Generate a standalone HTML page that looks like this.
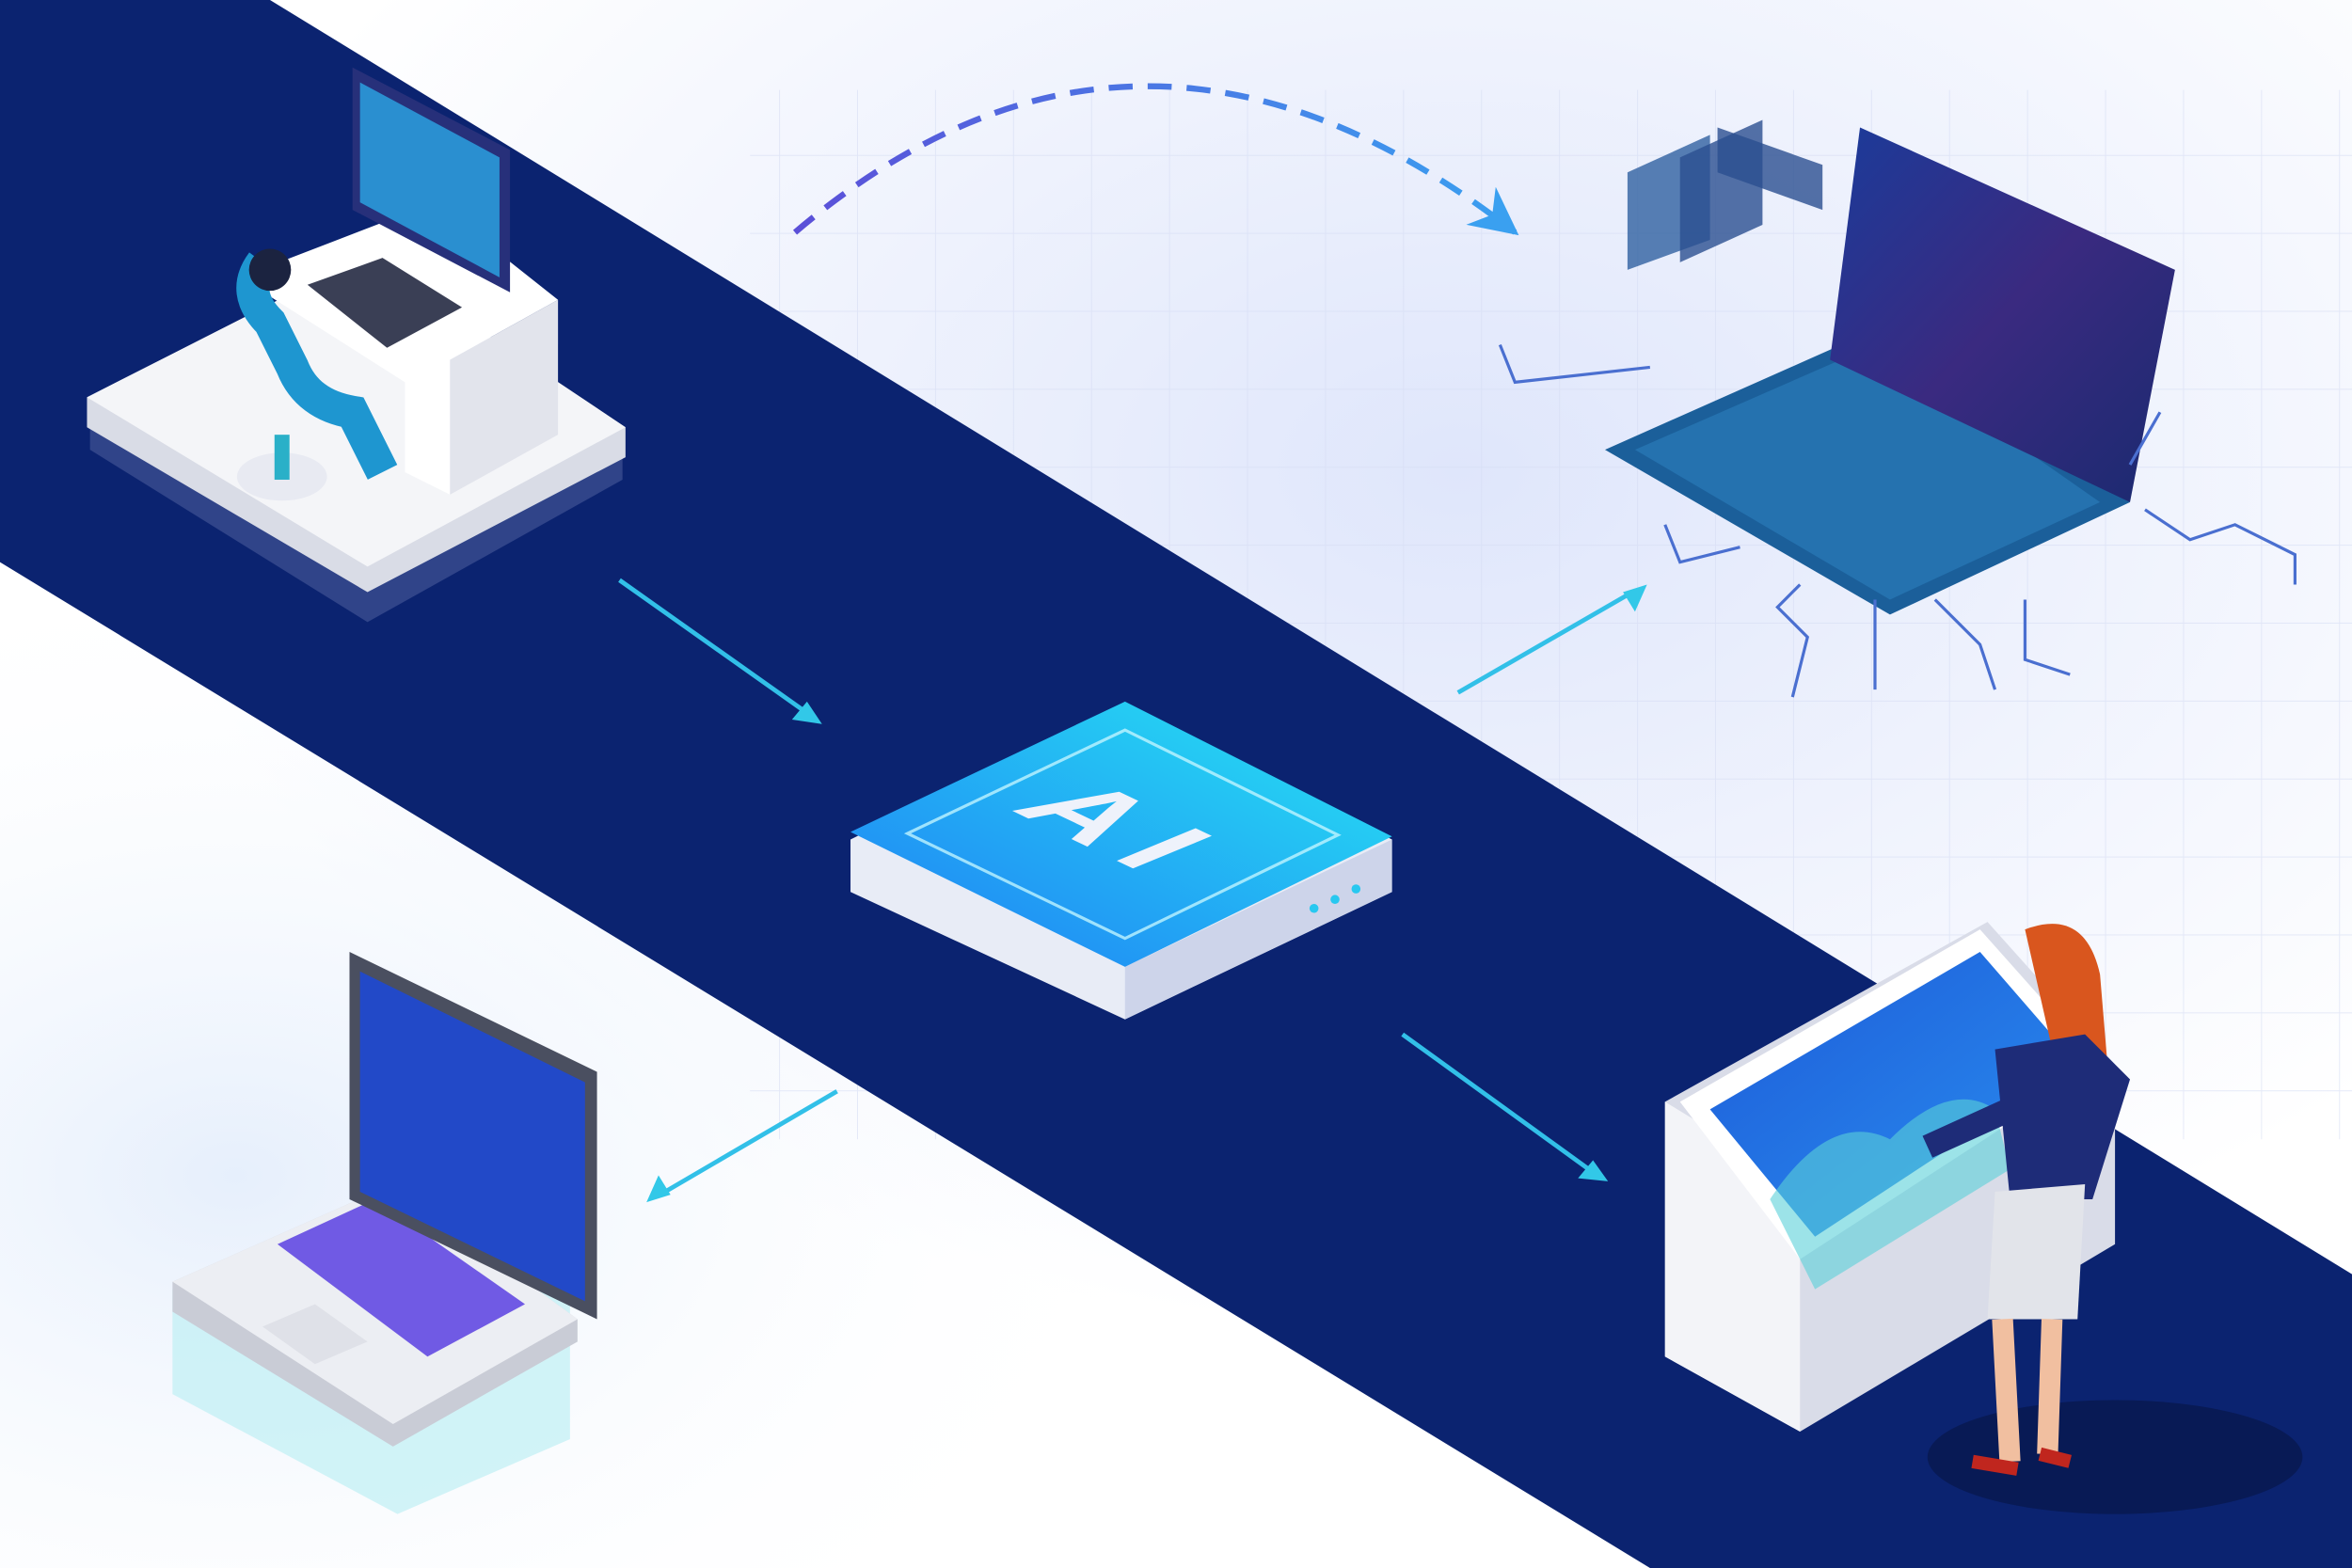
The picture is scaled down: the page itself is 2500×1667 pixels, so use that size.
<!DOCTYPE html>
<html><head><meta charset="utf-8"><style>
html,body{margin:0;padding:0;width:2500px;height:1667px;overflow:hidden;background:#fff}
svg{display:block}
</style></head><body>
<svg width="2500" height="1667" viewBox="0 0 1568 1046" preserveAspectRatio="none" xmlns="http://www.w3.org/2000/svg">
<defs>
<radialGradient id="bg1" cx="0.62" cy="0.3" r="0.55"><stop offset="0" stop-color="#dfe6fb"/><stop offset="1" stop-color="#ffffff"/></radialGradient>
<radialGradient id="bg2" cx="0.1" cy="0.75" r="0.4"><stop offset="0" stop-color="#e6effc"/><stop offset="1" stop-color="#ffffff" stop-opacity="0"/></radialGradient>
<linearGradient id="aitop" x1="0" y1="1" x2="1" y2="0"><stop offset="0" stop-color="#1f7cf5"/><stop offset="1" stop-color="#27e6f2"/></linearGradient>
<linearGradient id="arc" x1="0" x2="1"><stop offset="0" stop-color="#5b4fd8"/><stop offset="1" stop-color="#3aa0f0"/></linearGradient>
<linearGradient id="scr" x1="0" y1="0" x2="1" y2="1"><stop offset="0" stop-color="#1d5bd8"/><stop offset="1" stop-color="#2a8ff0"/></linearGradient>
<linearGradient id="lap2" x1="0" y1="0" x2="1" y2="1"><stop offset="0" stop-color="#1b3b9a"/><stop offset="0.5" stop-color="#3a2a80"/><stop offset="1" stop-color="#1a2a70"/></linearGradient>
<pattern id="grid" width="52" height="52" patternUnits="userSpaceOnUse"><path d="M52 0V52M0 52H52" stroke="#d5dcf3" stroke-width="1.2" fill="none"/></pattern>
<marker id="ah2" viewBox="0 0 10 10" refX="9" refY="5" markerWidth="8" markerHeight="8" orient="auto"><path d="M0 0L10 5L0 10L3 5Z" fill="#3aa0f0"/></marker>
</defs>
<rect width="1568" height="1046" fill="url(#bg1)"/>
<rect width="1568" height="1046" fill="url(#bg2)"/>
<rect x="500" y="60" width="1068" height="700" fill="url(#grid)" opacity="0.6"/>
<polygon points="180,0 1568,850 1568,1046 1100,1046 0,375 0,0" fill="#0b2370"/>
<path d="M530 155 Q760 -40 1010 155" fill="none" stroke="url(#arc)" stroke-width="4" stroke-dasharray="16 10" marker-end="url(#ah2)"/>
<g stroke="#32c0e8" stroke-width="3" fill="none">
<line x1="413" y1="387" x2="540" y2="477"/>
<line x1="972" y1="462" x2="1090" y2="394"/>
<line x1="935" y1="690" x2="1062" y2="782"/>
<line x1="558" y1="728" x2="440" y2="797"/>
</g>
<g fill="#32c8e8">
<path d="M548 483 l-20 -3 l10 -12z"/><path d="M1098 390 l-8 18 l-8 -13z"/><path d="M1072 788 l-20 -2 l10 -12z"/><path d="M431 802 l8 -18 l8 13z"/>
</g>
<!-- AI box -->
<polygon points="567,560 750,470 928,560 928,595 750,680 567,595" fill="#e8ecf6"/>
<polygon points="750,645 928,560 928,595 750,680" fill="#cdd4ea"/>
<polygon points="567,555 750,468 928,558 750,645" fill="url(#aitop)"/>
<polygon points="605,556 750,487 892,557 750,626" fill="none" stroke="#bff4ff" stroke-width="2" opacity="0.8"/>
<text font-family="Liberation Sans, sans-serif" font-weight="bold" font-size="83" letter-spacing="14" fill="#eef2fb" transform="matrix(0.9,0.43,-0.92,0.38,673,540)">AI</text>
<circle cx="876" cy="606" r="3" fill="#28c8f0"/><circle cx="890" cy="600" r="3" fill="#28c8f0"/><circle cx="904" cy="593" r="3" fill="#28c8f0"/>
<!-- desk platform -->
<polygon points="60,270 245,175 415,285 415,320 245,415 60,300" fill="#4a5a9a" opacity="0.6"/>
<polygon points="58,265 245,170 417,285 417,305 245,395 58,285" fill="#d9dce6"/>
<polygon points="58,265 245,170 417,285 245,378" fill="#f4f5f8"/>
<polygon points="160,185 290,135 372,200 300,240 300,330 270,315 270,255" fill="#ffffff"/>
<polygon points="300,240 372,200 372,290 300,330" fill="#e2e4ec"/>
<polygon points="235,45 340,100 340,195 235,140" fill="#27307a"/>
<polygon points="240,55 333,105 333,185 240,135" fill="#2a8fd0"/>
<polygon points="205,190 255,172 308,205 258,232" fill="#3a3f55"/>
<path d="M175 175 q-15 20 5 40 l15 30 q10 25 40 30 l20 40" stroke="#1e96d0" stroke-width="22" fill="none"/>
<circle cx="180" cy="180" r="14" fill="#1b2340"/>
<ellipse cx="188" cy="318" rx="30" ry="16" fill="#e8eaf2"/>
<rect x="183" y="290" width="10" height="30" fill="#2ab0c8"/>
<!-- bottom-left laptop -->
<polygon points="115,860 265,790 380,870 380,960 265,1010 115,930" fill="#bfeff4" opacity="0.7"/>
<polygon points="115,855 262,790 385,880 385,895 262,965 115,875" fill="#c9ccd6"/>
<polygon points="115,855 262,790 385,880 262,950" fill="#eceef3"/>
<polygon points="185,830 250,800 350,870 285,905" fill="#5a3fe0" opacity="0.85"/>
<polygon points="175,885 210,870 245,895 210,910" fill="#dfe1e8"/>
<polygon points="233,635 398,715 398,880 233,800" fill="#4a4f60"/>
<polygon points="240,648 390,722 390,868 240,795" fill="#2249c8"/>
<!-- top-right laptop -->
<polygon points="1070,300 1250,220 1420,335 1260,410" fill="#1b5f9a"/>
<polygon points="1090,300 1250,230 1400,335 1260,400" fill="#2a7ab8" opacity="0.7"/>
<polygon points="1240,85 1450,180 1420,335 1220,240" fill="url(#lap2)"/>
<g stroke="#4a6fd0" stroke-width="2" fill="none">
<path d="M1000 230 l10 25 l90 -10"/><path d="M1110 350 l10 25 l40 -10"/><path d="M1200 390 l-15 15 l20 20 l-10 40"/><path d="M1250 400 v60"/><path d="M1290 400 l30 30 l10 30"/><path d="M1350 400 v40 l30 10"/><path d="M1430 340 l30 20 l30 -10 l40 20 v20"/><path d="M1420 310 l20 -35"/>
</g>
<polygon points="1085,115 1140,90 1140,160 1085,180" fill="#3060a0" opacity="0.8"/>
<polygon points="1120,105 1175,80 1175,150 1120,175" fill="#2a4f90" opacity="0.8"/>
<polygon points="1145,85 1215,110 1215,140 1145,115" fill="#2a4f90" opacity="0.8"/>
<!-- kiosk -->
<ellipse cx="1410" cy="972" rx="125" ry="38" fill="#081a55"/>
<polygon points="1110,735 1325,615 1410,710 1410,830 1200,955 1110,905" fill="#d9dce8"/>
<polygon points="1110,735 1200,790 1200,955 1110,905" fill="#f3f4f8"/>
<polygon points="1120,735 1320,620 1400,710 1200,840" fill="#ffffff"/>
<polygon points="1140,740 1320,635 1385,710 1210,825" fill="url(#scr)"/>
<path d="M1180 800 q40 -60 80 -40 q40 -40 70 -20 l10 40 l-130 80z" fill="#5ad0d8" opacity="0.6"/>
<path d="M1350 620 q40 -15 50 30 l5 60 l-30 20 z" fill="#d9561e"/>
<polygon points="1330,700 1390,690 1420,720 1395,800 1340,800" fill="#1e2c78"/>
<polygon points="1330,795 1390,790 1385,880 1325,880" fill="#e2e4ea"/>
<path d="M1335 880 l5 95 M1368 880 l-3 90" stroke="#f1bfa0" stroke-width="14"/>
<path d="M1315 975 l30 5 M1360 970 l20 5" stroke="#c0261e" stroke-width="9"/>
<path d="M1340 740 l-55 25" stroke="#1e2c78" stroke-width="16"/>
</svg>
</body></html>
